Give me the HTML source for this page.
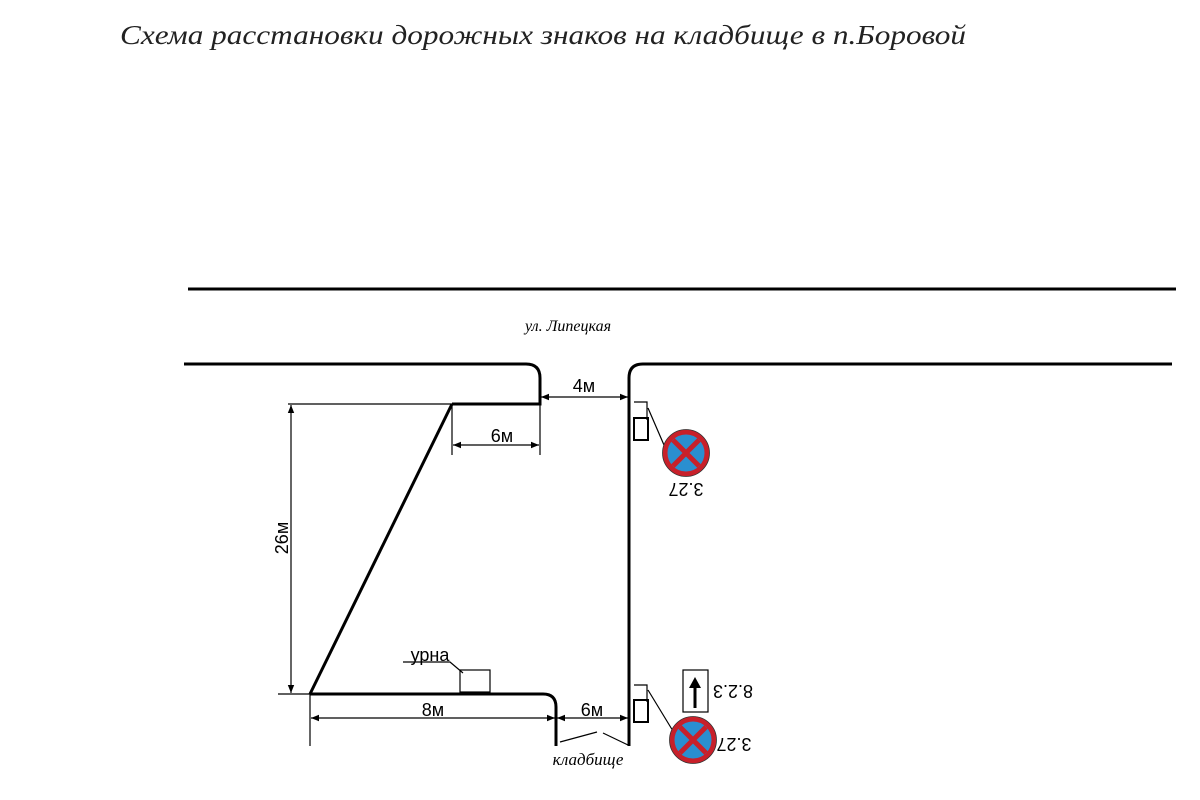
<!DOCTYPE html>
<html><head><meta charset="utf-8"><style>html,body{margin:0;padding:0;background:#fff;}svg{display:block}</style></head>
<body>
<svg width="1200" height="800" viewBox="0 0 1200 800" xmlns="http://www.w3.org/2000/svg">
<defs>
<marker id="a" viewBox="0 0 10 10" refX="10" refY="5" markerWidth="8" markerHeight="8" orient="auto-start-reverse" markerUnits="userSpaceOnUse"><path d="M0,1 L10,5 L0,9 z" fill="#000"/></marker>
</defs>
<text x="120" y="44" font-family="Liberation Serif, serif" font-style="italic" font-size="27" fill="#222" textLength="846" lengthAdjust="spacingAndGlyphs">Схема расстановки дорожных знаков на кладбище в п.Боровой</text>
<g stroke="#000" fill="none" stroke-width="3">
<line x1="188" y1="289" x2="1176" y2="289"/>
<path d="M184,364 H526 Q540,364 540,378 V404 H452"/>
<path d="M1172,364 H643 Q629,364 629,378 V746"/>
<line x1="452" y1="404" x2="310" y2="694"/>
<path d="M310,694 H543 Q556,694 556,707 V746"/>
</g>
<g stroke="#000" fill="none" stroke-width="1.2">
<line x1="452" y1="404" x2="288" y2="404"/>
<line x1="540" y1="404" x2="540" y2="455"/>
<line x1="452" y1="404" x2="452" y2="455"/>
<line x1="453" y1="445" x2="539" y2="445" marker-start="url(#a)" marker-end="url(#a)"/>
<line x1="541" y1="397" x2="628" y2="397" marker-start="url(#a)" marker-end="url(#a)"/>
<line x1="291" y1="405" x2="291" y2="693" marker-start="url(#a)" marker-end="url(#a)"/>
<line x1="278" y1="694" x2="310" y2="694"/>
<line x1="310" y1="694" x2="310" y2="746"/>
<line x1="311" y1="718" x2="555" y2="718" marker-start="url(#a)" marker-end="url(#a)"/>
<line x1="557" y1="718" x2="628" y2="718" marker-start="url(#a)" marker-end="url(#a)"/>
<line x1="560" y1="742" x2="597" y2="732"/>
<line x1="603" y1="733" x2="628" y2="745"/>
<path d="M403,662 H450 L463,673"/>
<rect x="460" y="670" width="30" height="22"/>
<path d="M634,402 H647 V420 M648,408 L667,452"/>
<rect x="634" y="418" width="14" height="22" stroke-width="2"/>
<path d="M634,685 H647 V702 M648,690 L676,736"/>
<rect x="634" y="700" width="14" height="22" stroke-width="2"/>
<rect x="683" y="670" width="25" height="42"/>
</g>
<g font-family="Liberation Sans, sans-serif" font-size="18" fill="#000" text-anchor="middle">
<text x="584" y="392">4м</text>
<text x="502" y="442">6м</text>
<text x="433" y="716">8м</text>
<text x="592" y="716">6м</text>
<text x="430" y="661">урна</text>
<text transform="translate(288,538) rotate(-90)">26м</text>
<text transform="translate(686,483) rotate(180)">3.27</text>
<text transform="translate(733,685) rotate(180)">8.2.3</text>
<text transform="translate(734,738) rotate(180)">3.27</text>
</g>
<text x="568" y="331" font-family="Liberation Serif, serif" font-style="italic" font-size="16" text-anchor="middle">ул. Липецкая</text>
<text x="588" y="765" font-family="Liberation Serif, serif" font-style="italic" font-size="17" text-anchor="middle">кладбище</text>
<g>
<circle cx="686" cy="453" r="21" fill="#2a8fd0" stroke="#c8202a" stroke-width="5"/>
<circle cx="686" cy="453" r="23.5" fill="none" stroke="#333" stroke-width="0.8"/>
<path d="M673,440 L699,466 M699,440 L673,466" stroke="#c8202a" stroke-width="5"/>
<circle cx="693" cy="740" r="21" fill="#2a8fd0" stroke="#c8202a" stroke-width="5"/>
<circle cx="693" cy="740" r="23.5" fill="none" stroke="#333" stroke-width="0.8"/>
<path d="M680,727 L706,753 M706,727 L680,753" stroke="#c8202a" stroke-width="5"/>
<line x1="695" y1="708" x2="695" y2="686" stroke="#000" stroke-width="3"/>
<path d="M689,688 L695,677 L701,688 z" fill="#000"/>
</g>
</svg>
</body></html>
